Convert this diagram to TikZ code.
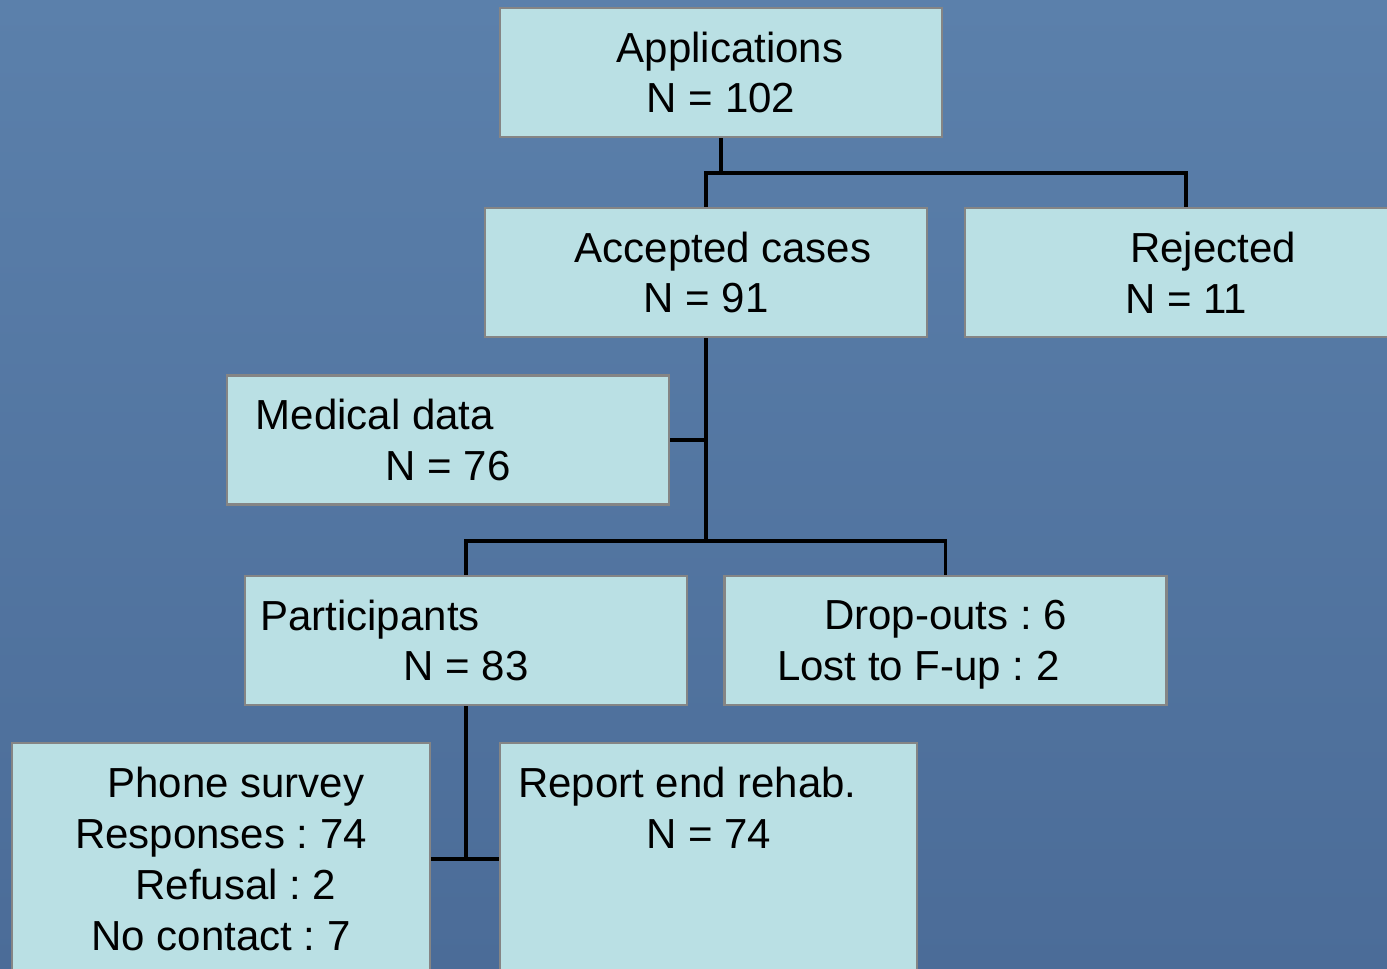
\documentclass[tikz,border=0pt]{standalone}
\usepackage{fontspec}
\setmainfont{Liberation Sans}
\usepackage{tikz}
\usepackage{color}
\frenchspacing
\definecolor{boxfill}{HTML}{BAE0E4}
\definecolor{boxline}{HTML}{858585}
\definecolor{bgtop}{HTML}{5B80AB}
\definecolor{bgbottom}{HTML}{4B6C98}
\tikzset{
    stage/.style={
           rectangle,
           draw=boxline, line width=1.6pt,
           fill=boxfill,
           minimum width=8.84cm,
           minimum height=2.58cm,
           inner sep=0pt,
           align=center,
           font=\fontsize{23.9}{29}\selectfont,
           },
    link/.style={draw=black, line width=2.1pt},
}

\begin{document}
\begin{tikzpicture}[x=0.02cm, y=-0.02cm]
    % page frame and blue background
    \useasboundingbox (0,0) rectangle (1387,969);
    \clip (0,0) rectangle (1387,969);
    \fill[top color=bgtop, bottom color=bgbottom] (0,0) rectangle (1387,969);

    % Stage: all applications
    \node[stage] (app) at (721,72.5)
    {\hspace*{0.36cm}Applications\\N = 102};

    % Stage: accepted / rejected
    \node[stage] (acc) at (706,272.5)
    {\hspace*{0.68cm}Accepted cases\\N = 91};
    \node[stage] (rej) at (1186,272.5)
    {\hspace*{1.08cm}Rejected\\N = 11};

    % side box off the main line
    \node[stage] (med) at (448,440)
    {Medical data\hspace*{2.92cm}\\N = 76};

    % Stage: participants / drop-outs
    \node[stage] (part) at (466,640.5)
    {Participants\hspace*{3.84cm}\\N = 83};
    \node[stage] (drop) at (945.5,640.5)
    {Drop-outs : 6\\\smash{Lost to F-up : 2}\hspace*{1.08cm}};

    % Stage: follow-up (boxes run past the bottom edge)
    \node[stage, minimum width=8.36cm, minimum height=4.64cm] (phone) at (221,859)
    {\hspace*{0.6cm}Phone survey\\Responses : 74\hspace*{0.48cm}\\
     \hspace*{0.6cm}Refusal : 2\\No contact : 7};
    \node[stage, minimum width=8.34cm, minimum height=4.64cm] (rep) at (708.5,859)
    {Report end rehab.\hspace*{0.84cm}\\N = 74\\~\\~};

    % draw the connectors
    \coordinate (split1) at (721,173);
    \coordinate (split2) at (706,541);

    \draw[link] (app.south) -- (split1);
    \draw[link] (acc.north) |- (split1) -| (rej.north);

    \draw[link] (acc.south) -- (split2);
    \draw[link] (med.east) -- (med.east -| acc.south);
    \draw[link] (part.north) |- (split2) -| (drop.north);

    \draw[link] (part.south) -- (part.south |- phone.east);
    \draw[link] (phone.east) -- (rep.west);
\end{tikzpicture}
\end{document}
